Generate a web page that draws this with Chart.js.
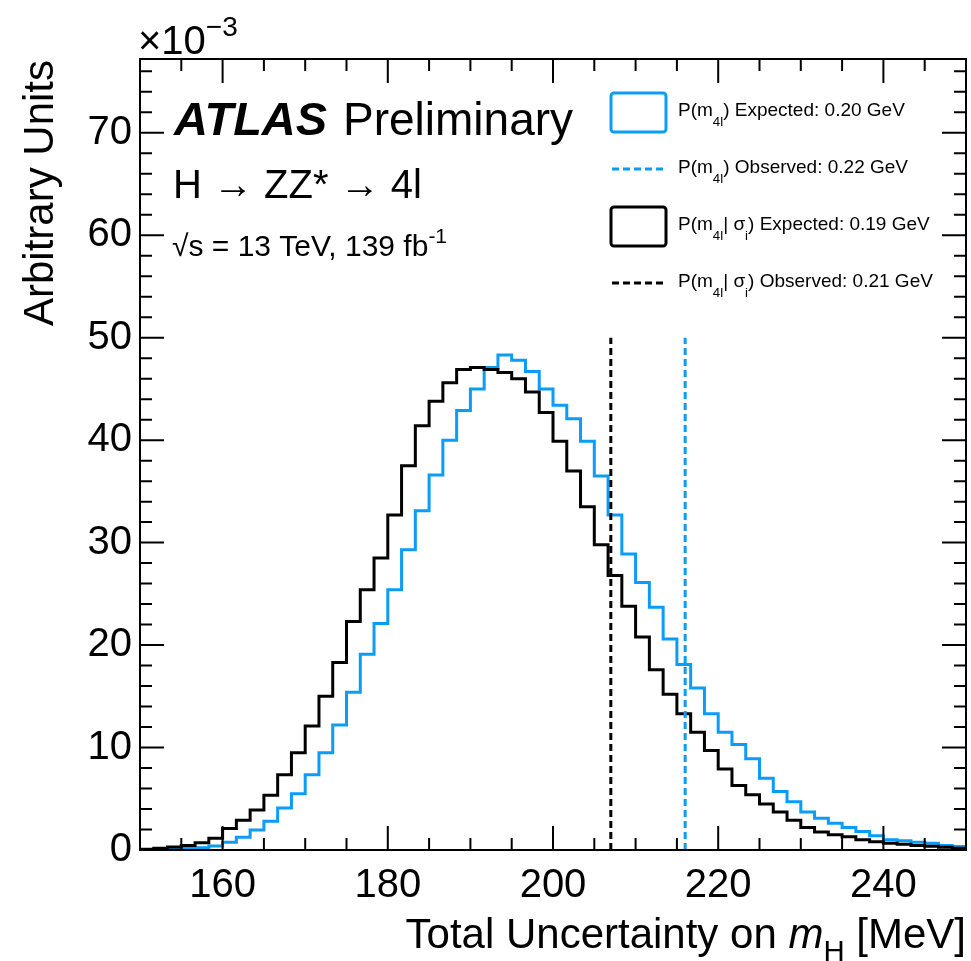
<!DOCTYPE html>
<html>
<head>
<meta charset="utf-8">
<script src="https://cdn.jsdelivr.net/npm/chart.js@4/dist/chart.umd.min.js"></script>
<style>
  html, body { margin: 0; padding: 0; background: #fff; }
</style>
</head>
<body>
<canvas id="chart" width="971" height="961"></canvas>
<script>
// histogram binning: 60 bins between 150 and 250 MeV
const X_MIN = 150;
const X_MAX = 250;
const N_BINS = 60;
const Y_MAX = 77.2;

const xTicks = [160, 180, 200, 220, 240];
const yTicks = [0, 10, 20, 30, 40, 50, 60, 70];

// bin contents, in units of 10^-3
const expectedM4l = [
    0.03, 0.05, 0.1, 0.17, 0.23, 0.4, 0.75, 1.25, 1.95, 2.8,
    4.1, 5.5, 7.35, 9.5, 12.2, 15.4, 19.1, 22.1, 25.4, 29.3,
    33.1, 36.6, 40.0, 42.9, 45.0, 47.1, 48.3, 47.8, 46.7, 45.0,
    43.4, 42.1, 39.9, 36.5, 32.7, 28.9, 26.1, 23.7, 20.6, 18.1,
    15.8, 13.3, 11.5, 10.3, 8.9, 7.0, 5.7, 4.7, 3.7, 3.1,
    2.6, 2.2, 1.8, 1.4, 1.0, 0.9, 0.75, 0.65, 0.45, 0.33
];
const expectedM4lSigma = [
    0.07, 0.17, 0.3, 0.45, 0.7, 1.15, 2.1, 2.9, 3.9, 5.35,
    7.35, 9.5, 12.1, 15.0, 18.3, 22.3, 25.4, 28.5, 32.7, 37.5,
    41.4, 43.8, 45.6, 46.9, 47.1, 46.9, 46.6, 46.0, 44.7, 42.7,
    39.9, 37.0, 33.5, 29.8, 26.8, 23.8, 20.8, 17.6, 15.2, 13.3,
    11.5, 9.7, 7.9, 6.3, 5.4, 4.5, 3.7, 2.9, 2.2, 1.76,
    1.5, 1.3, 1.0, 0.8, 0.65, 0.55, 0.45, 0.36, 0.26, 0.16
];

// observed values (MeV) and height of the marker lines
const observedM4l = 216.0;
const observedM4lSigma = 207.0;
const observedLineTop = 50;

const BLUE = '#0a9cf7';
const BLACK = '#000000';
const FONT = "'Liberation Sans', Arial, Helvetica, sans-serif";

const legendRows = [
    { kind: 'box', color: BLUE, parts: [['P(m', ''], ['4l', 'sub'], [') Expected: 0.20 GeV', '']] },
    { kind: 'dash', color: BLUE, parts: [['P(m', ''], ['4l', 'sub'], [') Observed: 0.22 GeV', '']] },
    { kind: 'box', color: BLACK, parts: [['P(m', ''], ['4l', 'sub'], ['| \u03c3', ''], ['i', 'sub'], [') Expected: 0.19 GeV', '']] },
    { kind: 'dash', color: BLACK, parts: [['P(m', ''], ['4l', 'sub'], ['| \u03c3', ''], ['i', 'sub'], [') Observed: 0.21 GeV', '']] }
];


function toHistogramPoints(values) {
    const width = (X_MAX - X_MIN) / N_BINS;
    const points = values.map((v, i) => ({ x: X_MIN + i * width, y: v }));
    points.push({ x: X_MAX, y: values[values.length - 1] });
    return points;
}

function verticalLine(xValue) {
    return [{ x: xValue, y: 0 }, { x: xValue, y: observedLineTop }];
}

function richWidth(ctx, parts, size, style = '') {
    let w = 0;
    parts.forEach(([text, kind]) => {
        const s = kind === 'sub' || kind === 'sup' ? size * 0.7 : size;
        const st = kind === 'it' ? 'italic ' : style;
        ctx.font = `${st}${s}px ${FONT}`;
        w += ctx.measureText(text).width;
    });
    return w;
}

function drawRich(ctx, parts, x, y, size, subDrop = 0.32) {
    parts.forEach(([text, kind]) => {
        let s = size, dy = 0, st = '';
        if (kind === 'sub') { s = size * 0.7; dy = size * subDrop; }
        if (kind === 'sup') { s = size * 0.7; dy = -size * 0.45; }
        if (kind === 'it') { st = 'italic '; }
        ctx.font = `${st}${s}px ${FONT}`;
        ctx.fillText(text, x, y + dy);
        x += ctx.measureText(text).width;
    });
    return x;
}

const atlasDecorations = {
    id: 'atlasDecorations',
    afterDatasetsDraw(chart) {
        const { ctx, chartArea: a, scales: { x, y } } = chart;
        ctx.save();
        ctx.strokeStyle = '#000';
        ctx.lineWidth = 2;
        ctx.strokeRect(a.left, a.top, a.right - a.left, a.bottom - a.top);

        // ticks inside the frame, on all four sides
        ctx.beginPath();
        for (let v = X_MIN + 5; v < X_MAX; v += 5) {
            const px = x.getPixelForValue(v);
            const len = xTicks.includes(v) ? 24 : 12;
            ctx.moveTo(px, a.bottom); ctx.lineTo(px, a.bottom - len);
            ctx.moveTo(px, a.top); ctx.lineTo(px, a.top + len);
        }
        for (let v = 2; v < Y_MAX; v += 2) {
            const py = y.getPixelForValue(v);
            const len = yTicks.includes(v) ? 24 : 12;
            ctx.moveTo(a.left, py); ctx.lineTo(a.left + len, py);
            ctx.moveTo(a.right, py); ctx.lineTo(a.right - len, py);
        }
        ctx.stroke();
        ctx.restore();
    },
    afterDraw(chart) {
        const { ctx, chartArea: a } = chart;
        ctx.save();
        ctx.fillStyle = '#000';
        ctx.textBaseline = 'alphabetic';

        // axis titles
        ctx.save();
        ctx.translate(53, a.top + 1);
        ctx.rotate(-Math.PI / 2);
        ctx.textAlign = 'right';
        ctx.font = `42px ${FONT}`;
        ctx.fillText('Arbitrary Units', 0, 0);
        ctx.restore();

        const xTitle = [['Total Uncertainty on ', ''], ['m', 'it'], ['H', 'sub'], [' [MeV]', '']];
        drawRich(ctx, xTitle, a.right - richWidth(ctx, xTitle, 42), 948, 42);

        drawRich(ctx, [['\u00d710', ''], ['\u22123', 'sup']], a.left - 2, 54, 40);

        // ATLAS label
        ctx.font = `bold italic 47px ${FONT}`;
        ctx.fillText('ATLAS', 174, 135);
        ctx.font = `46px ${FONT}`;
        ctx.fillText('Preliminary', 343, 135);
        ctx.font = `40px ${FONT}`;
        ctx.fillText('H \u2192 ZZ* \u2192 4l', 173, 198);
        drawRich(ctx, [['\u221as = 13 TeV, 139 fb', ''], ['-1', 'sup']], 172, 256, 30);

        // legend
        legendRows.forEach((row, i) => {
            const cy = 112 + i * 57;
            ctx.strokeStyle = row.color;
            ctx.lineWidth = 3;
            if (row.kind === 'box') {
                ctx.beginPath();
                ctx.roundRect(611, cy - 19, 55, 39, 3);
                ctx.stroke();
            } else {
                ctx.setLineDash([7, 4]);
                ctx.beginPath();
                ctx.moveTo(612, cy);
                ctx.lineTo(664, cy);
                ctx.stroke();
                ctx.setLineDash([]);
            }
            ctx.fillStyle = '#000';
            drawRich(ctx, row.parts, 678, cy + 4, 19, 0.5);
        });
        ctx.restore();
    }
};

const tickFont = { family: FONT, size: 40 };

new Chart(document.getElementById('chart'), {
    type: 'line',
    data: {
        datasets: [
            { label: 'P(m4l|sigma_i) Observed', data: verticalLine(observedM4lSigma), borderColor: BLACK, borderWidth: 3, borderDash: [7, 4] },
            { label: 'P(m4l) Observed', data: verticalLine(observedM4l), borderColor: BLUE, borderWidth: 3, borderDash: [7, 4] },
            { label: 'P(m4l|sigma_i) Expected', data: toHistogramPoints(expectedM4lSigma), borderColor: BLACK, borderWidth: 3, stepped: 'before' },
            { label: 'P(m4l) Expected', data: toHistogramPoints(expectedM4l), borderColor: BLUE, borderWidth: 3, stepped: 'before' }
        ]
    },
    options: {
        responsive: false,
        animation: false,
        layout: { padding: { top: 59, right: 5, left: 0, bottom: 0 } },
        elements: { point: { radius: 0 }, line: { tension: 0, fill: false } },
        plugins: { legend: { display: false }, tooltip: { enabled: false } },
        scales: {
            x: {
                type: 'linear',
                min: X_MIN,
                max: X_MAX,
                grid: { display: false, drawTicks: false },
                border: { display: false },
                afterBuildTicks: s => { s.ticks = xTicks.map(v => ({ value: v })); },
                afterFit: s => { s.height = 111; },
                ticks: { font: tickFont, color: '#000', padding: 12, autoSkip: false, maxRotation: 0 }
            },
            y: {
                type: 'linear',
                min: 0,
                max: Y_MAX,
                grid: { display: false, drawTicks: false },
                border: { display: false },
                afterBuildTicks: s => { s.ticks = yTicks.map(v => ({ value: v })); },
                afterFit: s => { s.width = 140; },
                ticks: { font: tickFont, color: '#000', padding: 8, autoSkip: false }
            }
        }
    },
    plugins: [atlasDecorations]
});
</script>
</body>
</html>
